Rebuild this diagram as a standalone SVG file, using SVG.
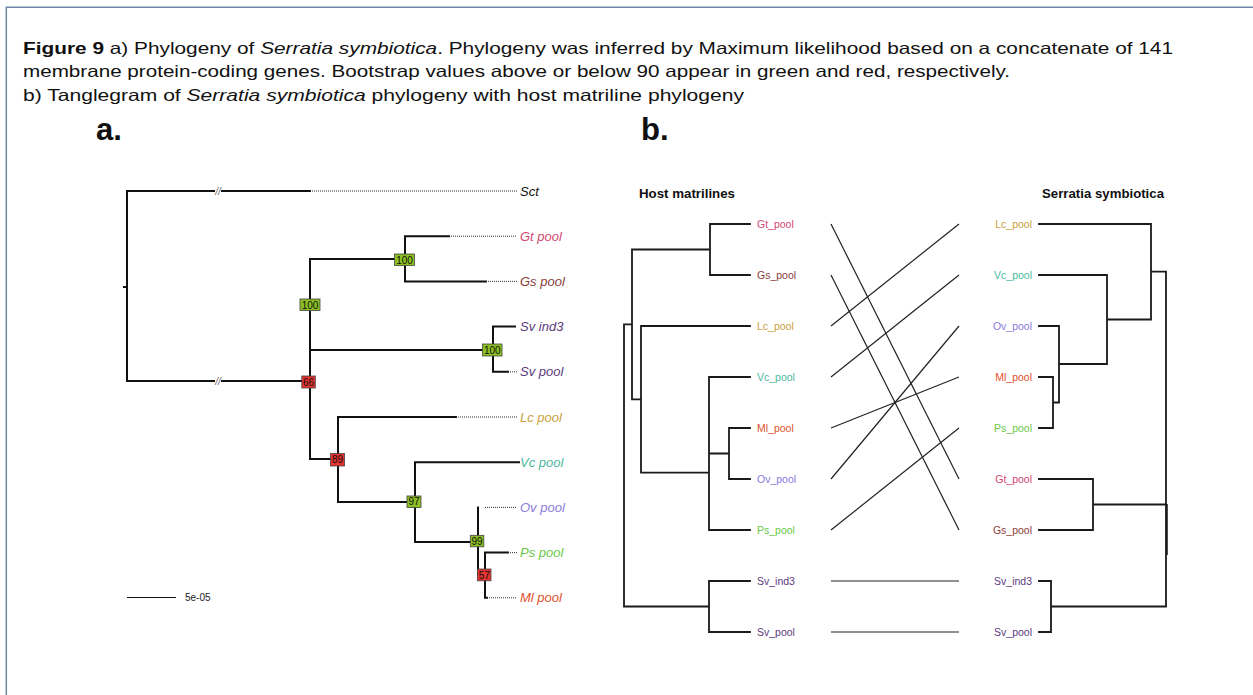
<svg xmlns="http://www.w3.org/2000/svg" width="1253" height="695" viewBox="0 0 1253 695">
<style>
.cap{font-family:"Liberation Sans",Arial,sans-serif;font-size:16.5px;fill:#111}
.pl{font-family:"Liberation Sans",Arial,sans-serif;font-weight:bold;font-size:31px;fill:#111}
.tr{fill:none;stroke:#111;stroke-width:2;stroke-linecap:square}
.dot{fill:none;stroke:#333;stroke-width:1;stroke-dasharray:1 1}
.la{font-family:"Liberation Sans",Arial,sans-serif;font-style:italic;font-size:13px}
.bs{font-family:"Liberation Sans",Arial,sans-serif;font-size:10px;fill:#111;text-anchor:middle}
.bg{fill:#8cbf22;stroke:#444;stroke-width:0.8}
.br{fill:#e53330;stroke:#444;stroke-width:0.8}
.tb{fill:none;stroke:#1a1a1a;stroke-width:1.8;stroke-linecap:square}
.lb{font-family:"Liberation Sans",Arial,sans-serif;font-size:10.5px}
.ttl{font-family:"Liberation Sans",Arial,sans-serif;font-weight:bold;font-size:13px;fill:#111}
.cn{stroke:#222;stroke-width:1.2}
.brk{font-family:"Liberation Sans",Arial,sans-serif;font-style:italic;font-size:10px;fill:#666;text-anchor:middle}
</style>
<rect width="1253" height="695" fill="#fff"/>
<path d="M1260,7.3 H6.3 V700" fill="none" stroke="#6b88a8" stroke-width="1.5"/>

<g id="caption">
<text class="cap" x="23" y="53.5" textLength="1150" lengthAdjust="spacingAndGlyphs"><tspan font-weight="bold">Figure 9</tspan>  a) Phylogeny of <tspan font-style="italic">Serratia symbiotica</tspan>. Phylogeny was inferred by Maximum likelihood based on a concatenate of 141</text>
<text class="cap" x="23" y="77" textLength="987" lengthAdjust="spacingAndGlyphs">membrane protein-coding genes. Bootstrap values above or below 90 appear in green and red, respectively.</text>
<text class="cap" x="23" y="100.5" textLength="721" lengthAdjust="spacingAndGlyphs">b) Tanglegram of <tspan font-style="italic">Serratia symbiotica</tspan> phylogeny with host matriline phylogeny</text>
</g>
<text class="pl" x="96" y="140">a.</text>
<text class="pl" x="641" y="140">b.</text>

<g id="panel-a">
<g id="a-edges">
<path class="tr" d="M127,191 V381 M124,287 H127 M127,191 H214 M222,191 H310 M127,381 H214 M222,381 H310
M310,259 V459 M310,259 H405 M405,236.2 V281.4 M405,236.2 H449 M405,281.4 H486
M310,350 H493 M493,326.6 V371.8 M493,326.6 H515 M493,371.8 H508
M310,459 H338 M338,417 V502 M338,417 H456 M338,502 H415
M415,462.2 V542 M415,462.2 H519 M415,542 H478
M478,507.4 V575 H485 M485,552.6 V597.8 M485,552.6 H508 M485,597.8 H487"/>
<path class="dot" d="M310,191 H517 M449,236.2 H517 M486,281.4 H517 M515,326.6 H517 M508,371.8 H517 M456,417 H517 M485,507.4 H517 M508,552.6 H517 M487,597.8 H517"/>
<text class="brk" x="218" y="194.5">//</text>
<text class="brk" x="218" y="384.5">//</text>
</g>
<g id="a-leaves">
<text class="la" x="520" y="195.5" fill="#111">Sct</text>
<text class="la" x="520" y="240.7" fill="#d4466f">Gt pool</text>
<text class="la" x="520" y="285.9" fill="#8a3d3a">Gs pool</text>
<text class="la" x="520" y="331.1" fill="#5c3a7e">Sv ind3</text>
<text class="la" x="520" y="376.3" fill="#5c3a7e">Sv pool</text>
<text class="la" x="520" y="421.5" fill="#c9a23e">Lc pool</text>
<text class="la" x="520" y="466.7" fill="#4bb89e">Vc pool</text>
<text class="la" x="520" y="511.9" fill="#8a7cdc">Ov pool</text>
<text class="la" x="520" y="557.1" fill="#6bc948">Ps pool</text>
<text class="la" x="520" y="602.3" fill="#e0502c">Ml pool</text>
</g>
<g id="bootstrap">
<g id="bs-gtgs"><rect class="bg" x="394.5" y="254" width="20" height="11.5"/><text class="bs" x="404.5" y="263.5">100</text></g>
<g id="bs-upper"><rect class="bg" x="300" y="299" width="20" height="11.5"/><text class="bs" x="310" y="308.5">100</text></g>
<g id="bs-sv"><rect class="bg" x="482.5" y="344" width="19.5" height="12"/><text class="bs" x="492.3" y="353.5">100</text></g>
<g id="bs-66"><rect class="br" x="301.8" y="376" width="13.5" height="12"/><text class="bs" x="308.5" y="385.5">66</text></g>
<g id="bs-89"><rect class="br" x="330.5" y="453.5" width="14" height="12.5"/><text class="bs" x="337.5" y="463.3">89</text></g>
<g id="bs-97"><rect class="bg" x="407" y="496" width="14" height="11.5"/><text class="bs" x="414" y="505.3">97</text></g>
<g id="bs-99"><rect class="bg" x="470.3" y="535.3" width="13.5" height="11.5"/><text class="bs" x="477" y="544.6">99</text></g>
<g id="bs-57"><rect class="br" x="477.5" y="569" width="13.5" height="11.8"/><text class="bs" x="484.2" y="578.6">57</text></g>
</g>
<g id="scale-bar">
<path d="M127,597.5 H176" stroke="#111" stroke-width="1.2"/>
<text x="185" y="601" font-family="Liberation Sans, Arial, sans-serif" font-size="10" fill="#222">5e-05</text>
</g>
</g>

<g id="panel-b">
<text class="ttl" x="639" y="198" textLength="96" lengthAdjust="spacingAndGlyphs">Host matrilines</text>
<text class="ttl" x="1042" y="198" textLength="122" lengthAdjust="spacingAndGlyphs">Serratia symbiotica</text>
<g id="host-tree">
<path class="tb" d="M710,224 H750 M710,275 H750 M710,224 V275 M632,249.5 H710
M641,326 H750 M709,377 H750 M729,428 H750 M729,479 H750 M729,428 V479 M709,453.5 H729 M709,530 H750 M709,377 V530
M641,472.7 H709 M641,326 V472.7 M632,399.3 H641 M632,249.5 V399.3 M624,324.4 H632
M624,324.4 V606.5 H709 M709,581 V632 M709,581 H750 M709,632 H750"/>
</g>
<g id="host-leaves">
<text class="lb" x="757" y="228" fill="#d4466f">Gt_pool</text>
<text class="lb" x="757" y="279" fill="#8a3d3a">Gs_pool</text>
<text class="lb" x="757" y="330" fill="#c9a23e">Lc_pool</text>
<text class="lb" x="757" y="381" fill="#4bb89e">Vc_pool</text>
<text class="lb" x="757" y="432" fill="#e0502c">Ml_pool</text>
<text class="lb" x="757" y="483" fill="#8a7cdc">Ov_pool</text>
<text class="lb" x="757" y="534" fill="#6bc948">Ps_pool</text>
<text class="lb" x="757" y="585" fill="#5c3a7e">Sv_ind3</text>
<text class="lb" x="757" y="636" fill="#5c3a7e">Sv_pool</text>
</g>
<g id="connectors">
<line class="cn" x1="831" y1="224" x2="959" y2="479"/>
<line class="cn" x1="831" y1="275" x2="959" y2="530"/>
<line class="cn" x1="831" y1="326" x2="959" y2="224"/>
<line class="cn" x1="831" y1="377" x2="959" y2="275"/>
<line class="cn" x1="831" y1="428" x2="959" y2="377"/>
<line class="cn" x1="831" y1="479" x2="959" y2="326"/>
<line class="cn" x1="831" y1="530" x2="959" y2="428"/>
<line class="cn" x1="831" y1="581" x2="959" y2="581" stroke="#555"/>
<line class="cn" x1="831" y1="632" x2="959" y2="632" stroke="#555"/>
</g>
<g id="symbiont-tree">
<path class="tb" d="M1039,224 H1151 M1039,275 H1107 M1039,326 H1059 M1039,377 H1053 M1039,428 H1053
M1053,377 V428 M1053,402.5 H1059 M1059,326 V402.5 M1059,364 H1107 M1107,275 V364 M1107,319.5 H1151 M1151,224 V319.5 M1151,271.7 H1166
M1039,479 H1093 M1039,530 H1093 M1093,479 V530 M1093,504.5 H1166
M1039,581 H1051 M1039,632 H1051 M1051,581 V632 M1051,606.5 H1166
M1166,271.7 V606.5"/>
<path d="M1167,504 V555" stroke="#111" stroke-width="1.5"/>
</g>
<g id="symbiont-leaves" text-anchor="end">
<text class="lb" x="1032" y="228" fill="#c9a23e">Lc_pool</text>
<text class="lb" x="1032" y="279" fill="#4bb89e">Vc_pool</text>
<text class="lb" x="1032" y="330" fill="#8a7cdc">Ov_pool</text>
<text class="lb" x="1032" y="381" fill="#e0502c">Ml_pool</text>
<text class="lb" x="1032" y="432" fill="#6bc948">Ps_pool</text>
<text class="lb" x="1032" y="483" fill="#d4466f">Gt_pool</text>
<text class="lb" x="1032" y="534" fill="#8a3d3a">Gs_pool</text>
<text class="lb" x="1032" y="585" fill="#5c3a7e">Sv_ind3</text>
<text class="lb" x="1032" y="636" fill="#5c3a7e">Sv_pool</text>
</g>
</g>
</svg>
